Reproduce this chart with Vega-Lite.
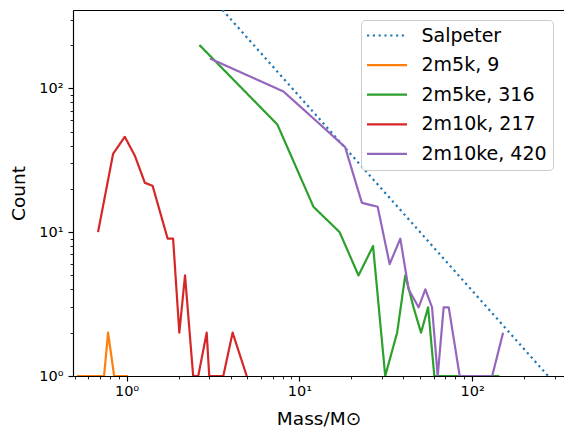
{
  "$schema": "https://vega.github.io/schema/vega-lite/v6.json",
  "autosize": {"type": "none"},
  "padding": {"left": 73, "top": 10, "right": 0, "bottom": 55},
  "width": 491,
  "height": 366,
  "background": "white",
  "config": {
    "view": {"stroke": null},
    "font": "DejaVu Sans",
    "axis": {
      "grid": false,
      "domainColor": "#000000",
      "tickColor": "#000000",
      "labelColor": "#000000",
      "titleColor": "#000000",
      "labelFont": "DejaVu Sans",
      "titleFont": "DejaVu Sans",
      "titleFontWeight": "normal",
      "domainWidth": 1.16,
      "tickWidth": 1.16,
      "labelFlush": false
    }
  },
  "layer": [
    {
      "data": {
        "values": [
          {"series": "Salpeter", "mass": 3.594, "count": 350},
          {"series": "Salpeter", "mass": 275, "count": 1},
          {"series": "2m5k, 9", "mass": 0.517, "count": 0},
          {"series": "2m5k, 9", "mass": 0.741, "count": 0},
          {"series": "2m5k, 9", "mass": 0.782, "count": 2},
          {"series": "2m5k, 9", "mass": 0.848, "count": 0},
          {"series": "2m5k, 9", "mass": 1.02, "count": 0},
          {"series": "2m5ke, 316", "mass": 2.64, "count": 200},
          {"series": "2m5ke, 316", "mass": 7.46, "count": 56},
          {"series": "2m5ke, 316", "mass": 12.07, "count": 15},
          {"series": "2m5ke, 316", "mass": 17.1, "count": 10},
          {"series": "2m5ke, 316", "mass": 22.0, "count": 5},
          {"series": "2m5ke, 316", "mass": 26.7, "count": 8},
          {"series": "2m5ke, 316", "mass": 31.4, "count": 0},
          {"series": "2m5ke, 316", "mass": 36.8, "count": 2},
          {"series": "2m5ke, 316", "mass": 41.0, "count": 5},
          {"series": "2m5ke, 316", "mass": 45.8, "count": 3},
          {"series": "2m5ke, 316", "mass": 50.6, "count": 2},
          {"series": "2m5ke, 316", "mass": 55.6, "count": 3},
          {"series": "2m5ke, 316", "mass": 60.4, "count": 0},
          {"series": "2m5ke, 316", "mass": 143.7, "count": 0},
          {"series": "2m10k, 217", "mass": 0.684, "count": 10},
          {"series": "2m10k, 217", "mass": 0.836, "count": 35},
          {"series": "2m10k, 217", "mass": 0.977, "count": 46},
          {"series": "2m10k, 217", "mass": 1.117, "count": 34},
          {"series": "2m10k, 217", "mass": 1.277, "count": 22},
          {"series": "2m10k, 217", "mass": 1.415, "count": 21},
          {"series": "2m10k, 217", "mass": 1.73, "count": 9},
          {"series": "2m10k, 217", "mass": 1.86, "count": 9},
          {"series": "2m10k, 217", "mass": 2.02, "count": 2},
          {"series": "2m10k, 217", "mass": 2.18, "count": 5},
          {"series": "2m10k, 217", "mass": 2.43, "count": 0},
          {"series": "2m10k, 217", "mass": 2.60, "count": 0},
          {"series": "2m10k, 217", "mass": 2.91, "count": 2},
          {"series": "2m10k, 217", "mass": 3.01, "count": 0},
          {"series": "2m10k, 217", "mass": 3.63, "count": 0},
          {"series": "2m10k, 217", "mass": 4.11, "count": 2},
          {"series": "2m10k, 217", "mass": 4.96, "count": 0},
          {"series": "2m10ke, 420", "mass": 3.04, "count": 161},
          {"series": "2m10ke, 420", "mass": 8.09, "count": 95},
          {"series": "2m10ke, 420", "mass": 13.2, "count": 56},
          {"series": "2m10ke, 420", "mass": 18.4, "count": 39},
          {"series": "2m10ke, 420", "mass": 23.0, "count": 16},
          {"series": "2m10ke, 420", "mass": 28.4, "count": 15},
          {"series": "2m10ke, 420", "mass": 33.3, "count": 6},
          {"series": "2m10ke, 420", "mass": 38.4, "count": 9},
          {"series": "2m10ke, 420", "mass": 42.9, "count": 4},
          {"series": "2m10ke, 420", "mass": 49.0, "count": 3},
          {"series": "2m10ke, 420", "mass": 53.6, "count": 4},
          {"series": "2m10ke, 420", "mass": 58.6, "count": 3},
          {"series": "2m10ke, 420", "mass": 63.2, "count": 0},
          {"series": "2m10ke, 420", "mass": 68.4, "count": 3},
          {"series": "2m10ke, 420", "mass": 73.2, "count": 3},
          {"series": "2m10ke, 420", "mass": 84.7, "count": 0},
          {"series": "2m10ke, 420", "mass": 130.6, "count": 0},
          {"series": "2m10ke, 420", "mass": 151, "count": 2}
        ]
      },
      "mark": {"type": "line", "strokeWidth": 2.2, "clip": true, "strokeJoin": "round", "strokeCap": "butt"},
      "encoding": {
        "x": {
          "field": "mass",
          "type": "quantitative",
          "scale": {"type": "log", "domain": [0.49, 340], "nice": false},
          "axis": {
            "orient": "bottom",
            "values": [1, 10, 100],
            "labelExpr": "datum.value == 1 ? '10⁰' : datum.value == 10 ? '10¹' : '10²'",
            "tickSize": 5,
            "labelFontSize": 14.5,
            "labelPadding": 3,
            "title": "Mass/M⊙",
            "titleFontSize": 18.5,
            "titleBaseline": "alphabetic",
            "titleAlign": "center",
            "titleX": 245.5,
            "titleY": 48,
            "zindex": 1
          }
        },
        "y": {
          "field": "count",
          "type": "quantitative",
          "scale": {"type": "log", "domain": [1, 350], "nice": false, "clamp": true},
          "axis": {
            "orient": "left",
            "values": [1, 10, 100],
            "labelExpr": "datum.value == 1 ? '10⁰' : datum.value == 10 ? '10¹' : '10²'",
            "tickSize": 5,
            "labelFontSize": 14.5,
            "labelPadding": 5,
            "title": "Count",
            "titleFontSize": 18.5,
            "titleAngle": 270,
            "titleAlign": "center",
            "titleBaseline": "middle",
            "titleX": -55,
            "titleY": 183,
            "zindex": 1
          }
        },
        "color": {
          "field": "series",
          "type": "nominal",
          "scale": {
            "domain": ["Salpeter", "2m5k, 9", "2m5ke, 316", "2m10k, 217", "2m10ke, 420"],
            "range": ["#1f77b4", "#ff7f0e", "#2ca02c", "#d62728", "#9467bd"]
          },
          "legend": {
            "title": null,
            "orient": "none",
            "legendX": 288,
            "legendY": 10,
            "symbolType": "M-2.5,0H2.5",
            "symbolSize": 256,
            "symbolStrokeWidth": 2.2,
            "symbolOffset": 10.5,
            "labelOffset": 25,
            "labelFontSize": 19,
            "labelFont": "DejaVu Sans",
            "labelColor": "#000000",
            "labelLimit": 0,
            "padding": 6,
            "rowPadding": 9.6,
            "strokeColor": "#cccccc",
            "fillColor": "rgba(255,255,255,0.8)",
            "cornerRadius": 4
          }
        },
        "strokeDash": {
          "field": "series",
          "type": "nominal",
          "scale": {
            "domain": ["Salpeter", "2m5k, 9", "2m5ke, 316", "2m10k, 217", "2m10ke, 420"],
            "range": [[2.2, 3.6], [1, 0], [1, 0], [1, 0], [1, 0]]
          },
          "legend": {"title": null}
        }
      }
    },
    {
      "data": {"values": [{"mass": 1, "count": 1}]},
      "mark": {"type": "point", "opacity": 0},
      "encoding": {
        "x": {
          "field": "mass",
          "type": "quantitative",
          "scale": {"type": "log", "domain": [0.49, 340], "nice": false},
          "axis": {
            "orient": "bottom",
            "values": [0.5, 0.6, 0.7, 0.8, 0.9, 2, 3, 4, 5, 6, 7, 8, 9, 20, 30, 40, 50, 60, 70, 80, 90, 200, 300],
            "labels": false,
            "domain": false,
            "tickSize": 2.9,
            "tickWidth": 0.87,
            "title": null
          }
        },
        "y": {
          "field": "count",
          "type": "quantitative",
          "scale": {"type": "log", "domain": [1, 350], "nice": false, "clamp": true},
          "axis": {
            "orient": "left",
            "values": [2, 3, 4, 5, 6, 7, 8, 9, 20, 30, 40, 50, 60, 70, 80, 90, 200, 300],
            "labels": false,
            "domain": false,
            "tickSize": 2.9,
            "tickWidth": 0.87,
            "title": null
          }
        }
      }
    },
    {
      "data": {"values": [{"mass": 1, "count": 1}]},
      "mark": {"type": "point", "opacity": 0},
      "encoding": {
        "x": {
          "field": "mass",
          "type": "quantitative",
          "scale": {"type": "log", "domain": [0.49, 340], "nice": false},
          "axis": {
            "orient": "top",
            "ticks": false,
            "labels": false,
            "domain": true,
            "title": null
          }
        },
        "y": {
          "field": "count",
          "type": "quantitative",
          "scale": {"type": "log", "domain": [1, 350], "nice": false, "clamp": true},
          "axis": null
        }
      }
    }
  ],
  "resolve": {"axis": {"x": "independent", "y": "independent"}}
}
